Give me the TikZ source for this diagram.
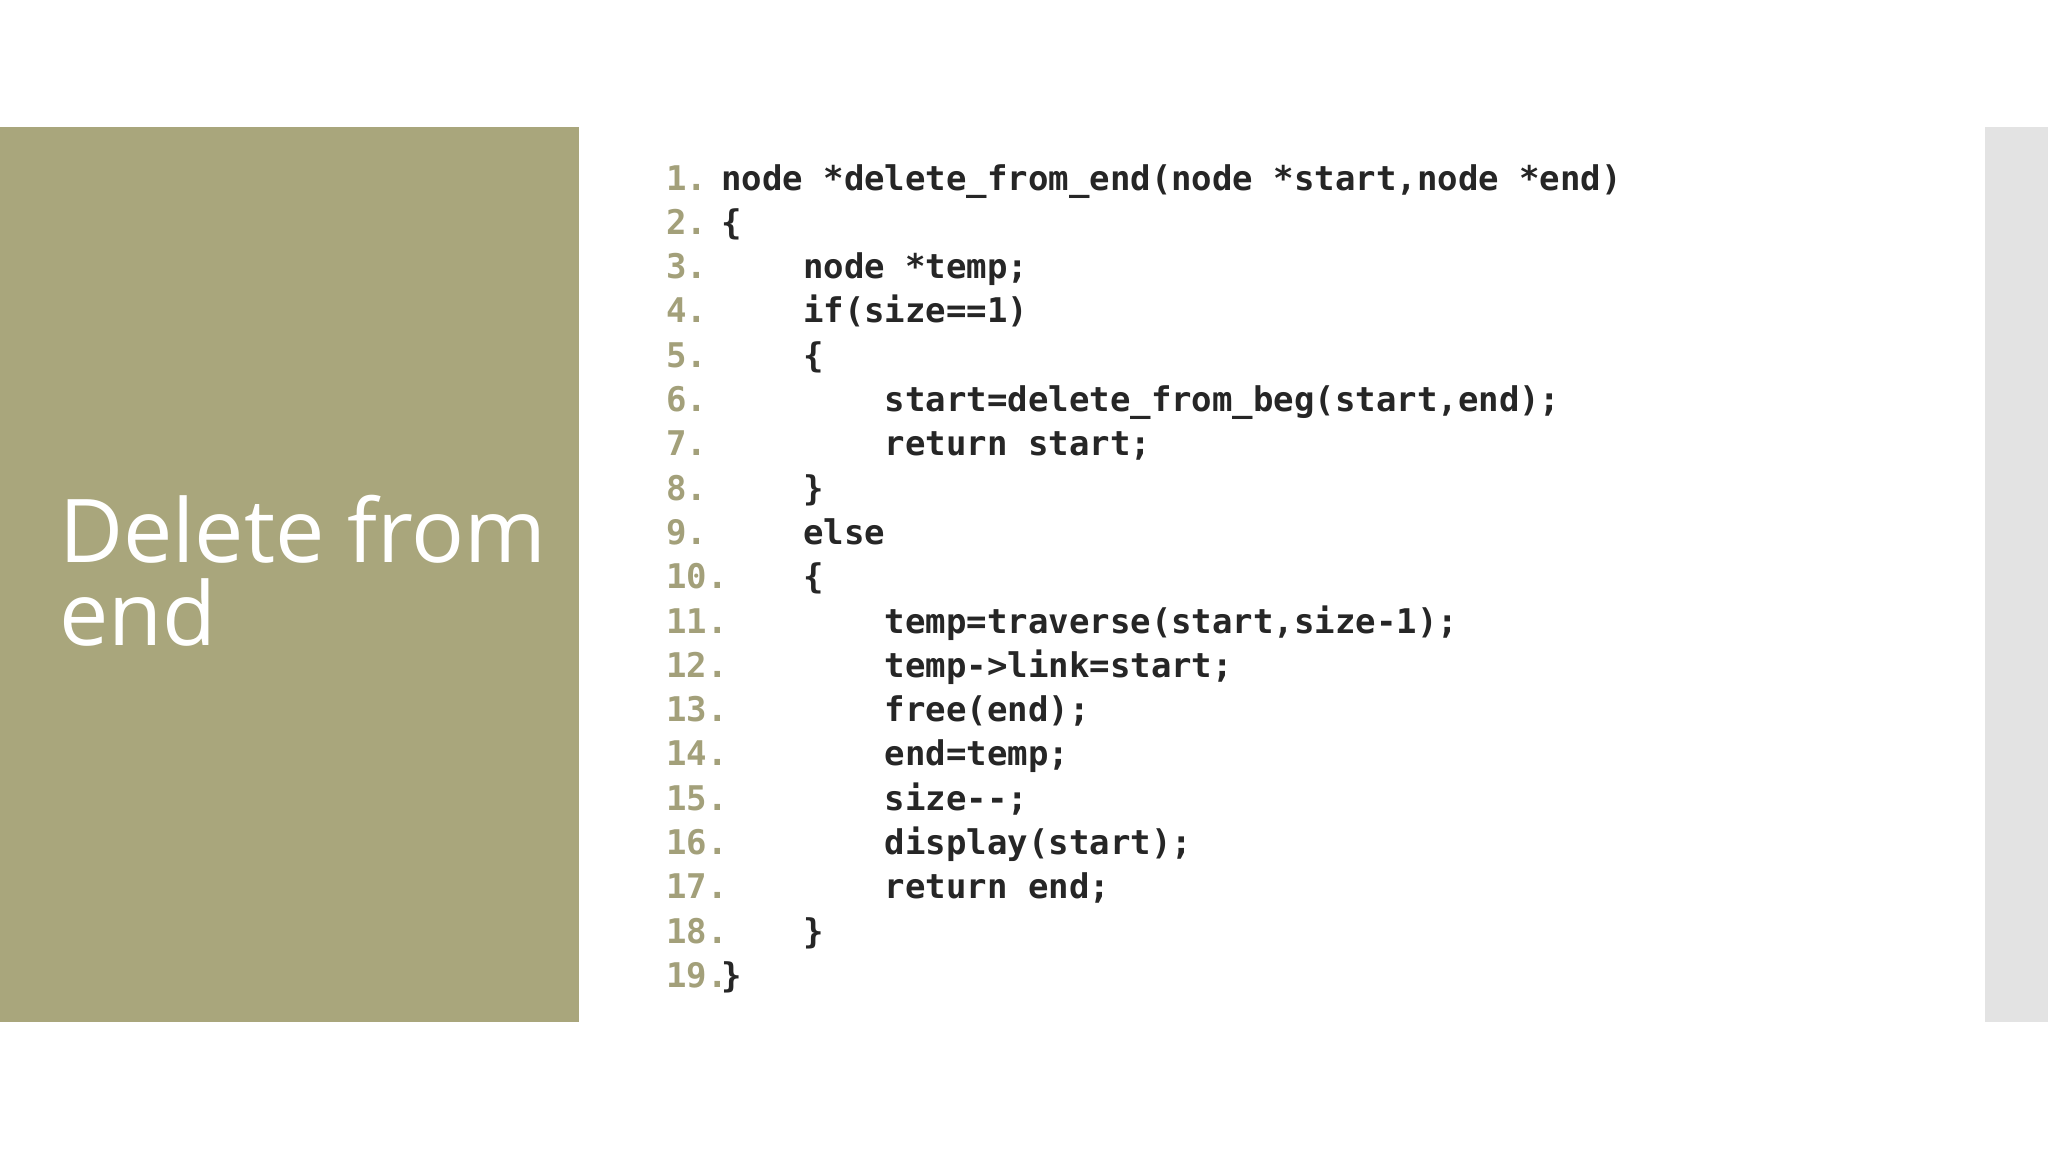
\documentclass[tikz,border=0pt]{standalone}
\usepackage{fontspec}
\setmainfont{Open Sans}
\newfontfamily\codefont{DejaVu Sans Mono}
\definecolor{olive}{HTML}{A9A67C}
\definecolor{numc}{HTML}{A3A07A}
\definecolor{codec}{HTML}{262626}
\definecolor{side}{HTML}{E3E3E3}
\tikzset{num/.style={anchor=base west,inner sep=0,font=\codefont\bfseries\fontsize{34}{40}\selectfont,text=numc},
code/.style={anchor=base west,inner sep=0,font=\codefont\bfseries\fontsize{34}{40}\selectfont,text=codec},
title/.style={anchor=base west,inner sep=0,font=\fontsize{88}{100}\selectfont,text=white}}
\begin{document}
\begin{tikzpicture}[x=1pt,y=-1pt]
\useasboundingbox (0,0) rectangle (2048,1152);
\fill[white] (0,0) rectangle (2048,1152);
\fill[olive] (0,127) rectangle (579,1022);
\fill[side] (1985,127) rectangle (2048,1022);
\node[title] (t1) at (59,562) {Delete from};
\node[title] (t2) at (59,645) {end};
\foreach \n/\c [count=\i] in {
{1.}/{node *delete\_from\_end(node *start,node *end)},
{2.}/{\{},
{3.}/{\ \ \ \ node *temp;},
{4.}/{\ \ \ \ if(size==1)},
{5.}/{\ \ \ \ \{},
{6.}/{\ \ \ \ \ \ \ \ start=delete\_from\_beg(start,end);},
{7.}/{\ \ \ \ \ \ \ \ return start;},
{8.}/{\ \ \ \ \}},
{9.}/{\ \ \ \ else},
{10.}/{\ \ \ \ \{},
{11.}/{\ \ \ \ \ \ \ \ temp=traverse(start,size-1);},
{12.}/{\ \ \ \ \ \ \ \ temp->link=start;},
{13.}/{\ \ \ \ \ \ \ \ free(end);},
{14.}/{\ \ \ \ \ \ \ \ end=temp;},
{15.}/{\ \ \ \ \ \ \ \ size-{}-;},
{16.}/{\ \ \ \ \ \ \ \ display(start);},
{17.}/{\ \ \ \ \ \ \ \ return end;},
{18.}/{\ \ \ \ \}},
{19.}/{\}}}
{
\node[num] (n\i) at (666,{178+12+(\i-1)*44.3}) {\n};
\node[code] (c\i) at (721,{178+12+(\i-1)*44.3}) {\c};
}
\end{tikzpicture}
\end{document}
